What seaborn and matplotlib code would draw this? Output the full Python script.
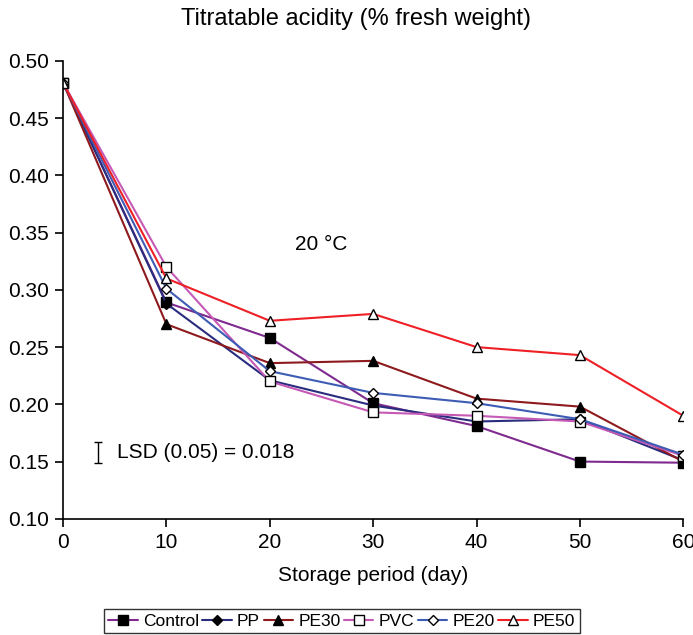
import matplotlib
matplotlib.use("Agg")
import matplotlib.pyplot as plt
import numpy as np
import pandas as pd
import seaborn as sns

# ------------------------------------------------
# Data
# ------------------------------------------------

days = [0, 10, 20, 30, 40, 50, 60]

control = [0.481, 0.289, 0.258, 0.201, 0.181, 0.150, 0.149]
pp = [0.481, 0.288, 0.221, 0.199, 0.185, 0.187, 0.151]
pe30 = [0.481, 0.270, 0.236, 0.238, 0.205, 0.198, 0.150]
pvc = [0.481, 0.320, 0.220, 0.193, 0.190, 0.185, 0.155]
pe20 = [0.481, 0.301, 0.229, 0.210, 0.201, 0.187, 0.156]
pe50 = [0.481, 0.310, 0.273, 0.279, 0.250, 0.243, 0.190]

series = ["Control", "PP", "PE30", "PVC", "PE20", "PE50"]
values = [control, pp, pe30, pvc, pe20, pe50]

colors = ["#7E2A8E", "#2A2D7E", "#8E1A1E", "#C659B6", "#3E5CB4", "#EE2026"]
markers = ["s", "D", "^", "s", "D", "^"]
faces = ["black", "black", "black", "white", "white", "white"]
msizes = [7, 5.5, 7, 7, 5.5, 7]

df = pd.DataFrame(
    [(d, v, s) for s, vals in zip(series, values) for d, v in zip(days, vals)],
    columns=["day", "acidity", "film"],
)

# ------------------------------------------------
# Plot
# ------------------------------------------------

sns.set_style("ticks")
plt.rcParams["font.family"] = ["Liberation Sans", "DejaVu Sans"]
plt.rcParams["text.color"] = "black"
plt.rcParams["axes.labelcolor"] = "black"
plt.rcParams["xtick.color"] = "black"
plt.rcParams["ytick.color"] = "black"

fig = plt.figure(figsize=(6.93, 6.35), dpi=100)
ax = fig.add_axes([0.091, 0.183, 0.895, 0.721])

for name, col, mk, fc, ms in zip(series, colors, markers, faces, msizes):
    sns.lineplot(
        data=df[df["film"] == name],
        x="day",
        y="acidity",
        color=col,
        marker=mk,
        markerfacecolor=fc,
        markeredgecolor="black",
        markeredgewidth=1.0,
        markersize=ms,
        linewidth=1.5,
        label=name,
        ax=ax,
    )

ax.set_xlim(0, 60)
ax.set_ylim(0.10, 0.50)
ax.set_xticks(range(0, 61, 10))
ax.set_yticks(np.arange(0.10, 0.501, 0.05))
ax.set_yticklabels([f"{t:.2f}" for t in np.arange(0.10, 0.501, 0.05)])
ax.tick_params(labelsize=15, length=6, width=1.2, direction="out", pad=4)
for s in ["left", "bottom"]:
    ax.spines[s].set_linewidth(1.2)
    ax.spines[s].set_color("black")
sns.despine(ax=ax)

ax.set_xlabel("Storage period (day)", fontsize=15, labelpad=10)
ax.set_ylabel("")
fig.text(0.514, 0.97, "Titratable acidity (% fresh weight)", ha="center", va="center", fontsize=17)

ax.text(25, 0.34, "20 °C", ha="center", va="center", fontsize=15)
ax.errorbar([3.4], [0.158], yerr=[0.009], fmt="none", ecolor="black", capsize=3, elinewidth=1)
ax.text(5.2, 0.158, "LSD (0.05) = 0.018", ha="left", va="center", fontsize=15)

handles, labels = ax.get_legend_handles_labels()
ax.get_legend().remove()
leg = fig.legend(
    handles,
    labels,
    loc="lower center",
    bbox_to_anchor=(0.493, 0.0),
    ncol=6,
    frameon=True,
    fancybox=False,
    fontsize=12.5,
    handlelength=1.7,
    handletextpad=0.3,
    columnspacing=0.2,
    borderpad=0.25,
    borderaxespad=0.1,
    edgecolor="black",
)
leg.get_frame().set_linewidth(1.0)

fig.savefig("out.png", dpi=100)
